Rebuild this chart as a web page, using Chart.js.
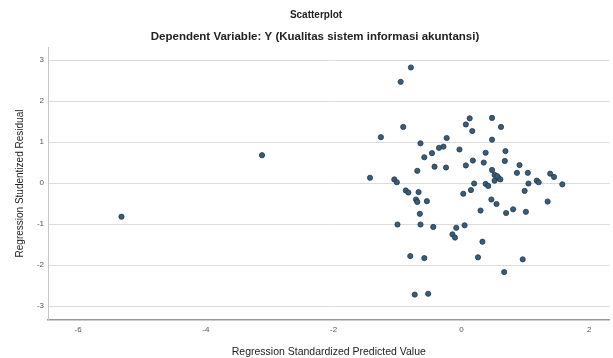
<!DOCTYPE html>
<html>
<head>
<meta charset="utf-8">
<script src="https://cdn.jsdelivr.net/npm/chart.js@4.4.1/dist/chart.umd.min.js"></script>
<style>
  html, body { margin: 0; padding: 0; background: #fff; overflow: hidden; }
  #wrap { width: 613px; height: 358px; }
</style>
</head>
<body>
<div id="wrap"><canvas id="myChart"></canvas></div>
<script>
// valores predichos estandarizados (x) y residuos estudentizados (y)
const predicho = [
  -5.32, -3.12, -1.43, -1.26, -1.05, -1.01, -1.00, -0.95, -0.91, -0.79,
  -0.87, -0.83, -0.80, -0.73, -0.71, -0.69, -0.69, -0.67, -0.65, -0.64,
  -0.64, -0.58, -0.58, -0.54, -0.52, -0.46, -0.44, -0.42, -0.35, -0.28,
  -0.24, -0.23, -0.14, -0.10, -0.08, -0.03, 0.03, 0.05, 0.07, 0.07,
  0.13, 0.15, 0.17, 0.18, 0.20, 0.26, 0.30, 0.33, 0.35, 0.38,
  0.38, 0.42, 0.52, 0.47, 0.48, 0.48, 0.48, 0.55, 0.52, 0.58,
  0.61, 0.62, 0.67, 0.68, 0.69, 0.70, 0.81, 0.87, 0.91, 0.96,
  0.99, 1.01, 1.04, 1.05, 1.18, 1.21, 1.35, 1.39, 1.45, 1.58, 0.56
];
const residuo = [
  -0.82, 0.68, 0.13, 1.12, 0.09, 0.02, -1.01, 2.47, 1.37, 2.82,
  -0.18, -0.23, -1.78, -2.72, -0.40, -0.46, 0.30, -0.22, -0.75, -1.01,
  0.97, 0.63, -1.83, -0.44, -2.70, 0.73, -1.07, 0.40, 0.86, 0.89,
  0.38, 1.10, -1.25, -1.33, -1.09, 0.82, -0.26, -1.03, 1.43, 0.43,
  1.58, -0.17, 1.27, 0.55, -0.01, -1.81, -0.67, -1.43, 0.50, 0.74,
  -0.02, -0.07, 0.06, -0.40, 1.59, 1.06, 0.32, -0.51, 0.20, 0.13,
  0.09, 1.37, -2.17, 0.54, 0.78, -0.73, -0.64, 0.25, 0.44, -1.86,
  -0.19, -0.70, 0.25, -0.01, 0.06, 0.02, -0.45, 0.23, 0.15, -0.03, 0.17
];
const xTicks = [-6, -4, -2, 0, 2];
const yTicks = [-3, -2, -1, 0, 1, 2, 3];
const titulo = 'Scatterplot';
const subtitulo = 'Dependent Variable: Y (Kualitas sistem informasi akuntansi)';

const puntos = predicho.map((x, i) => ({ x: x, y: residuo[i] }));
const fuente = 'Arial, "Liberation Sans", sans-serif';

// titulos dibujados a mano (en SPSS no quedan centrados en el canvas)
const titulos = {
  id: 'titulos',
  afterDraw(chart) {
    const c = chart.ctx;
    c.save();
    c.fillStyle = '#222';
    c.textAlign = 'center';
    c.textBaseline = 'middle';
    c.font = 'bold 10px ' + fuente;
    c.fillText(titulo, 316, 15);
    c.font = 'bold 11.5px ' + fuente;
    c.fillText(subtitulo, 315, 37);
    c.restore();
  }
};

const ctx = document.getElementById('myChart').getContext('2d');
const myChart = new Chart(ctx, {
  type: 'scatter',
  data: {
    datasets: [{
      data: puntos,
      backgroundColor: '#365d7b',
      borderColor: '#26384a',
      borderWidth: 0.8,
      pointRadius: 2.6,
      pointHoverRadius: 2.6
    }]
  },
  options: {
    responsive: true,
    maintainAspectRatio: false,
    animation: false,
    layout: { padding: { top: 47 } },
    plugins: {
      legend: { display: false },
      tooltip: { enabled: false }
    },
    scales: {
      x: {
        type: 'linear',
        min: -6.47,
        max: 2.32,
        afterBuildTicks: s => { s.ticks = xTicks.map(v => ({ value: v })); },
        afterFit: s => { s.height = 38; },
        ticks: { color: '#555', font: { family: fuente, size: 8 }, padding: 5, includeBounds: false },
        grid: { display: false, drawTicks: false },
        border: { display: true, color: '#999', width: 1.5 },
        title: {
          display: true,
          text: 'Regression Standardized Predicted Value',
          color: '#222',
          font: { family: fuente, size: 10.5, lineHeight: 1.2 },
          padding: { top: 4, bottom: 0 }
        }
      },
      y: {
        type: 'linear',
        min: -3.34,
        max: 3.32,
        afterBuildTicks: s => { s.ticks = yTicks.map(v => ({ value: v })); },
        afterFit: s => { s.width = 48; },
        ticks: { color: '#555', font: { family: fuente, size: 8 }, padding: 4, includeBounds: false },
        grid: { color: '#dcdcdc', lineWidth: 1, drawTicks: false },
        border: { display: true, color: '#c8c8c8', width: 1 },
        title: {
          display: true,
          text: 'Regression Studentized Residual',
          color: '#222',
          font: { family: fuente, size: 10, lineHeight: 1.2 },
          padding: { top: 14, bottom: 0 }
        }
      }
    }
  },
  plugins: [titulos]
});
</script>
</body>
</html>
